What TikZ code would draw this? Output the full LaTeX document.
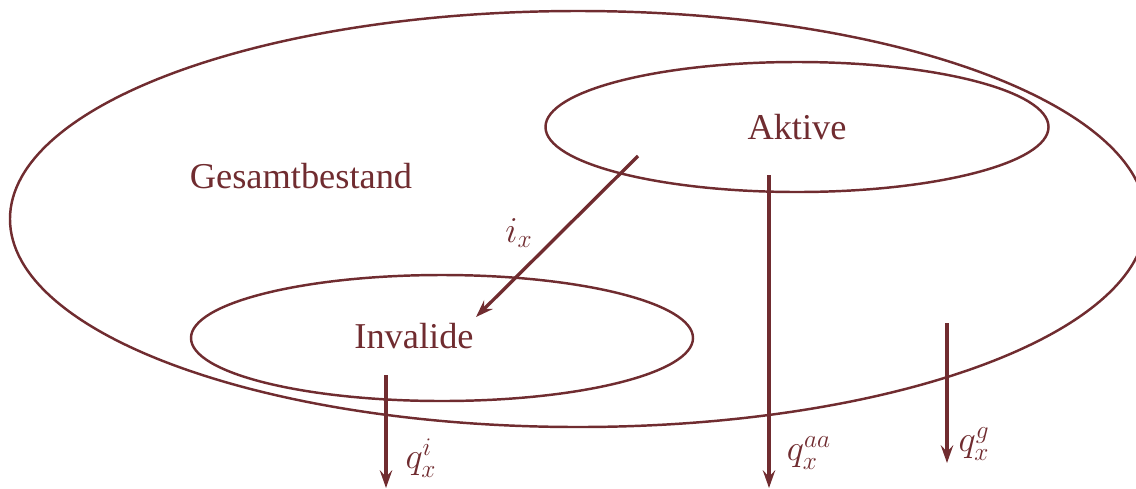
\documentclass[tikz,border=0pt]{standalone}
\usepackage{fontspec}
\setmainfont{Liberation Serif}
\usetikzlibrary{shapes.geometric,arrows.meta}
\definecolor{bestand}{RGB}{112,44,48}
\tikzset{
  menge/.style={draw=bestand, line width=1.4pt, ellipse, inner sep=0pt},
  fluss/.style={draw=bestand, line width=1.9pt, -{Stealth[length=10pt,width=7pt,inset=3.5pt]}},
  txt/.style={text=bestand, inner sep=0pt, font=\fontsize{20.7}{25}\selectfont},
}
\begin{document}
\begin{tikzpicture}[x=0.2mm, y=-0.2mm]
	\useasboundingbox (0,0) rectangle (1136,488);
	% Bestaende als Ellipsen
	\node[menge, minimum width=227.2mm, minimum height=83.2mm] (gesamt) at (578,219) {};
	\node[menge, minimum width=100.6mm, minimum height=26mm] (aktivmenge) at (797,127) {};
	\node[menge, minimum width=100.4mm, minimum height=25.2mm] (invalidmenge) at (442,338) {};
	% Namen
	\node[txt] (gesamttext) at (301,176) {Gesamtbestand};
	\node[txt] (aktivtext) at (797,127) {Aktive};
	\node[txt] (invalidtext) at (414,336) {Invalide};
	% Enden der Uebergaenge
	\coordinate (ixa) at (638,156);
	\coordinate (ixe) at (476,317);
	\coordinate (aaa) at (769,175);
	\coordinate (aae) at (769,488);
	\coordinate (qia) at (386,375);
	\coordinate (qie) at (386,488);
	\coordinate (qga) at (947,323);
	\coordinate (qge) at (947,463);
	% Uebergaenge
	\draw[fluss] (ixa) -- (ixe);
	\draw[fluss] (aaa) -- (aae);
	\draw[fluss] (qia) -- (qie);
	\draw[fluss] (qga) -- (qge);
	\node[txt] (ixlabel) at (519,233) {$i_x$};
	\node[txt] (qaalabel) at (809,453) {$q_x^{aa}$};
	\node[txt] (qilabel) at (421,458) {$q_x^{i}$};
	\node[txt] (qglabel) at (974,444) {$q_x^{g}$};
\end{tikzpicture}
\end{document}
